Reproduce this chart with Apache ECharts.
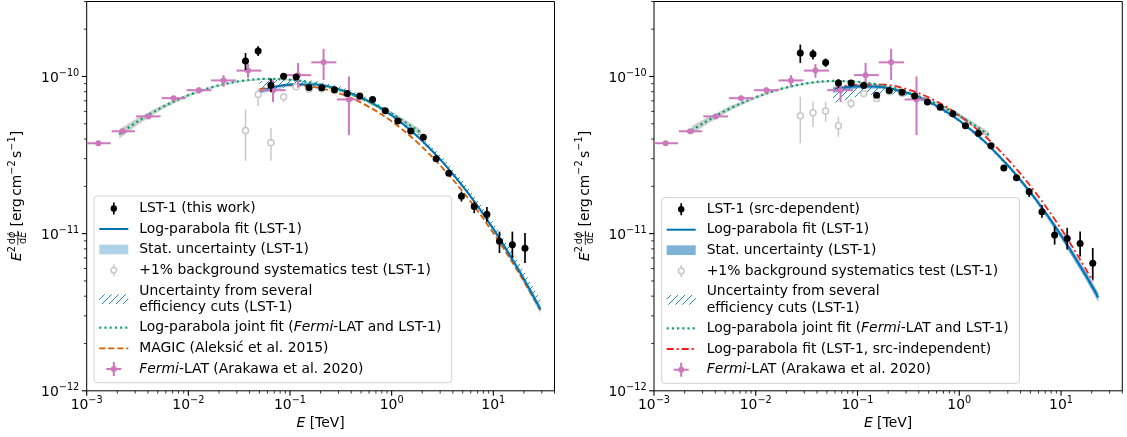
<!DOCTYPE html>
<html><head><meta charset="utf-8">
<script src="https://cdn.jsdelivr.net/npm/echarts@6/dist/echarts.min.js"></script>
<style>html,body{margin:0;padding:0;background:#fff}#c{width:1127px;height:437px}</style>
</head><body><div id="c"></div>
<script>
// ---------------- DATA (fluxes in units of 1e-11 erg cm^-2 s^-1, energies in TeV) ----------------
const SC = 1e-11;
const X_MIN = 1e-3, X_MAX = 40, Y_MIN = 1e-12, Y_MAX = 3e-10;

const xMajor = [0.001, 0.01, 0.1, 1, 10];
const xMinor = [0.002,0.003,0.004,0.005,0.006,0.007,0.008,0.009,
                0.02,0.03,0.04,0.05,0.06,0.07,0.08,0.09,
                0.2,0.3,0.4,0.5,0.6,0.7,0.8,0.9,
                2,3,4,5,6,7,8,9,20,30,40];
const yMajor = [1e-12, 1e-11, 1e-10];
const yMinor = [2e-12,3e-12,4e-12,5e-12,6e-12,7e-12,8e-12,9e-12,
                2e-11,3e-11,4e-11,5e-11,6e-11,7e-11,8e-11,9e-11,2e-10,3e-10];

// Fermi-LAT (Arakawa et al. 2020), both panels
const fermiE   = [0.00130, 0.00226, 0.00403, 0.00716, 0.0127, 0.0222, 0.0386, 0.0681, 0.120, 0.214, 0.380];
const fermiElo = [0.00100, 0.00176, 0.00305, 0.00546, 0.00959, 0.0167, 0.0297, 0.0504, 0.0923, 0.162, 0.290];
const fermiEhi = [0.00172, 0.00298, 0.00533, 0.00944, 0.0169, 0.0294, 0.0524, 0.0908, 0.162, 0.286, 0.502];
const fermiF   = [3.76, 4.48, 5.57, 7.28, 8.18, 9.44, 10.9, 8.18, 10.2, 12.3, 7.14];
const fermiFlo = [3.66, 4.36, 5.42, 7.05, 7.80, 8.60, 9.80, 6.87, 8.50, 9.50, 4.24];
const fermiFhi = [3.86, 4.60, 5.72, 7.52, 8.50, 10.2, 12.0, 9.47, 12.2, 15.0, 10.0];

// LST-1 (this work) - left
const lstL_E   = [0.0365,0.0486,0.0649,0.0865,0.115,0.154,0.205,0.274,0.365,0.486,0.649,0.865,1.15,1.54,2.05,2.74,3.65,4.86,6.49,8.65,11.5,15.4,20.5];
const lstL_F   = [12.56,14.5,8.81,10.04,9.94,8.51,8.47,8.24,7.78,7.50,7.14,6.05,5.20,4.50,4.10,3.00,2.42,1.73,1.49,1.33,0.893,0.851,0.808];
const lstL_Flo = [11.0,13.5,7.98,9.60,9.65,8.30,8.30,8.10,7.65,7.37,7.00,5.93,5.09,4.40,4.00,2.92,2.34,1.60,1.35,1.19,0.753,0.700,0.650];
const lstL_Fhi = [14.1,15.6,9.71,10.5,10.25,8.72,8.65,8.40,7.92,7.63,7.28,6.17,5.31,4.60,4.20,3.08,2.50,1.85,1.60,1.48,1.03,1.03,1.01];
// +1% background test - left
const bkgL_E   = [0.0365,0.0486,0.0649,0.0865,0.115,0.154,0.205,0.274];
const bkgL_F   = [4.54,7.69,3.79,7.43,8.59,8.30,8.35,8.10];
const bkgL_Flo = [2.91,6.48,2.91,6.90,8.30,8.10,8.20,7.95];
const bkgL_Fhi = [6.18,8.39,4.70,7.87,8.85,8.50,8.50,8.25];

// LST-1 (src-dependent) - right
const lstR_E   = [0.0274,0.0365,0.0486,0.0649,0.0865,0.115,0.154,0.205,0.274,0.365,0.486,0.649,0.865,1.15,1.54,2.05,2.74,3.65,4.86,6.49,8.65,11.5,15.4,20.5];
const lstR_F   = [14.13,13.90,12.27,9.10,9.10,8.77,7.60,8.13,7.93,7.50,6.87,6.38,5.79,4.86,4.36,3.63,2.62,2.27,1.85,1.38,0.982,0.933,0.867,0.647];
const lstR_Flo = [12.19,12.82,11.5,8.51,8.75,8.55,7.42,7.95,7.77,7.35,6.73,6.25,5.67,4.76,4.26,3.55,2.55,2.19,1.71,1.26,0.851,0.791,0.716,0.509];
const lstR_Fhi = [15.96,14.83,13.0,9.61,9.45,8.99,7.78,8.31,8.09,7.65,7.01,6.51,5.91,4.96,4.46,3.72,2.70,2.35,1.95,1.52,1.11,1.09,1.03,0.811];
const bkgR_E   = [0.0274,0.0365,0.0486,0.0649,0.0865,0.115,0.154,0.205,0.274];
const bkgR_F   = [5.62,5.88,6.03,4.86,6.74,7.80,7.25,8.00,7.80];
const bkgR_Flo = [3.76,4.79,5.15,4.14,6.27,7.60,7.05,7.85,7.65];
const bkgR_Fhi = [7.43,6.90,6.90,5.54,7.25,8.00,7.45,8.15,7.95];

// Curves - left
const fitL_E   = [0.0501,0.1,0.1778,0.3162,0.5623,1,1.778,3.162,5.623,10,17.78,29.04];
const fitL_F   = [8.03,8.88,8.88,8.24,7.09,5.65,4.18,2.86,1.82,1.073,0.586,0.330];
const statL_lo = [7.74,8.68,8.76,8.16,7.02,5.59,4.11,2.80,1.770,1.034,0.558,0.310];
const statL_hi = [8.33,9.09,9.00,8.32,7.16,5.72,4.25,2.92,1.871,1.113,0.615,0.351];
const sysL_lo  = [7.87,8.70,8.71,8.09,6.96,5.55,4.10,2.81,1.78,1.05,0.569,0.312];
const sysL_hi  = [9.33,9.63,9.41,8.63,7.42,5.94,4.43,3.06,1.973,1.177,0.657,0.383];
const magic_E  = [0.0501,0.1,0.1778,0.3162,0.5623,1,1.778,3.162,5.623,10,17.78,29.04];
const magic_F  = [8.31,8.79,8.54,7.74,6.55,5.18,3.82,2.62,1.684,1.009,0.564,0.326];
const jointL_E  = [0.002089,0.003162,0.005623,0.01,0.01778,0.03162,0.05623,0.1,0.1778,0.3162,0.5623,1,1.95];
const jointL_F  = [4.30,5.17,6.41,7.60,8.61,9.32,9.65,9.54,9.02,8.14,7.03,5.80,4.38];
const jointL_lo = [4.01,4.91,6.21,7.44,8.49,9.21,9.54,9.43,8.90,7.99,6.85,5.60,4.18];
const jointL_hi = [4.61,5.44,6.62,7.76,8.73,9.43,9.76,9.65,9.15,8.29,7.21,6.00,4.59];

// Curves - right
const fitR_E   = [0.05754,0.1,0.1778,0.3162,0.5623,1,1.778,3.162,5.623,10,17.78,23.23];
const fitR_F   = [8.22,8.68,8.55,7.82,6.65,5.25,3.85,2.62,1.661,0.977,0.534,0.393];
const statR_lo = [7.85,8.42,8.37,7.69,6.54,5.15,3.76,2.549,1.601,0.933,0.503,0.367];
const statR_hi = [8.61,8.94,8.73,7.95,6.76,5.35,3.94,2.693,1.723,1.023,0.567,0.421];
const sysR_lo  = [6.76,7.47,7.80,7.47,6.47,5.11,3.745,2.548,1.608,0.942,0.510,0.374];
const sysR_hi  = [8.37,8.84,8.71,7.97,6.84,5.40,3.96,2.69,1.710,1.007,0.553,0.411];
const indepR_E = [0.0603,0.1,0.1778,0.3162,0.5623,1,1.778,3.162,5.623,10,17.78,20.51];
const indepR_F = [8.34,8.88,8.88,8.24,7.09,5.65,4.18,2.86,1.82,1.073,0.586,0.499];
const jointR_E  = [0.002344,0.003162,0.005623,0.01,0.01778,0.03162,0.05623,0.1,0.1778,0.3162,0.5623,1,1.95];
const jointR_F  = [4.54,5.12,6.28,7.37,8.35,9.04,9.36,9.25,8.75,7.90,6.82,5.63,4.25];
const jointR_lo = [4.26,4.87,6.08,7.22,8.24,8.94,9.25,9.14,8.63,7.76,6.65,5.44,4.06];
const jointR_hi = [4.84,5.39,6.49,7.52,8.47,9.14,9.47,9.36,8.87,8.05,7.00,5.83,4.45];

// ---------------- STYLE ----------------
const FONT = '"DejaVu Sans", sans-serif';
const FS = 13.9, FSS = 9.73;
const C_BLUE = '#0173b2', C_HATCH = '#1f88d2', C_ORANGE = '#d55e00', C_GREEN = '#029e73',
      C_PINK = '#cc78bc', C_GRAY = '#c8c8c8', C_RED = '#ff1a1a';
const C_STAT_L = '#aed3e8', C_STAT_R = '#7db4d6', C_JOINT = 'rgba(140,150,145,0.45)';

const mctx = document.createElement('canvas').getContext('2d');
function tw(s, size, italic) { mctx.font = (italic ? 'italic ' : '') + size + 'px ' + FONT; return mctx.measureText(s).width; }

function hatchCanvas(color) {
  const c = document.createElement('canvas'); c.width = 7; c.height = 7;
  const g = c.getContext('2d'); g.strokeStyle = color; g.lineWidth = 1;
  g.beginPath(); g.moveTo(0, 7); g.lineTo(7, 0); g.moveTo(-1, 1); g.lineTo(1, -1); g.moveTo(6, 8); g.lineTo(8, 6); g.stroke();
  return c;
}
const HATCH = { image: hatchCanvas(C_HATCH), repeat: 'repeat' };

function pts(xs, ys) { return xs.map((x, i) => [x, ys[i] * SC]); }

function bandSeries(gi, E, lo, hi, fill, z) {
  return { type: 'custom', xAxisIndex: gi, yAxisIndex: gi, z, silent: true, clip: true,
    data: [[E[0], lo[0] * SC]],
    renderItem: (params, api) => {
      const p = [];
      for (let i = 0; i < E.length; i++) p.push(api.coord([E[i], hi[i] * SC]));
      for (let i = E.length - 1; i >= 0; i--) p.push(api.coord([E[i], lo[i] * SC]));
      return { type: 'polygon', shape: { points: p }, style: { fill: fill, stroke: null } };
    } };
}
function lineSeries(gi, E, F, color, width, dash, z) {
  return { type: 'line', xAxisIndex: gi, yAxisIndex: gi, z, silent: true, data: pts(E, F),
    showSymbol: false, symbol: 'none', smooth: 0.35,
    lineStyle: { color, width, type: dash || 'solid', opacity: 1 } };
}
function errSeries(gi, E, F, Flo, Fhi, Elo, Ehi, color, width, z) {
  return { type: 'custom', xAxisIndex: gi, yAxisIndex: gi, z, silent: true, clip: false,
    data: E.map((e, i) => [e, F[i] * SC, Flo[i] * SC, Fhi[i] * SC, Elo ? Elo[i] : e, Ehi ? Ehi[i] : e]),
    renderItem: (params, api) => {
      const c = api.coord([api.value(0), api.value(1)]);
      const lo = api.coord([api.value(0), api.value(2)]);
      const hi = api.coord([api.value(0), api.value(3)]);
      const ch = [{ type: 'line', shape: { x1: c[0], y1: lo[1], x2: c[0], y2: hi[1] }, style: { stroke: color, lineWidth: width } }];
      if (Elo) {
        const l = api.coord([api.value(4), api.value(1)]);
        const r = api.coord([api.value(5), api.value(1)]);
        ch.push({ type: 'line', shape: { x1: l[0], y1: c[1], x2: r[0], y2: c[1] }, style: { stroke: color, lineWidth: width } });
      }
      return { type: 'group', children: ch };
    } };
}
function scatterSeries(gi, E, F, size, itemStyle, z) {
  return { type: 'scatter', xAxisIndex: gi, yAxisIndex: gi, z, silent: true, data: pts(E, F),
    symbol: 'circle', symbolSize: size, itemStyle: Object.assign({ opacity: 1 }, itemStyle) };
}
function txt(s, x, y, size, align, italic) {
  return { type: 'text', style: { text: s, x, y, fontSize: size, fontFamily: FONT, fontStyle: italic ? 'italic' : 'normal',
    fill: '#000', align, verticalAlign: 'middle' } };
}
function tickSeries(gi, axis, vals, len, lw, withLabels) {
  return { type: 'custom', xAxisIndex: gi, yAxisIndex: gi, clip: false, silent: true, z: 30,
    data: vals.map(v => axis === 'x' ? [v, Y_MIN] : [X_MIN, v]),
    renderItem: (params, api) => {
      const p = api.coord([api.value(0), api.value(1)]);
      const v = axis === 'x' ? api.value(0) : api.value(1);
      const ch = [];
      if (axis === 'x') ch.push({ type: 'line', shape: { x1: p[0], y1: p[1], x2: p[0], y2: p[1] + len }, style: { stroke: '#000', lineWidth: lw } });
      else ch.push({ type: 'line', shape: { x1: p[0] - len, y1: p[1], x2: p[0], y2: p[1] }, style: { stroke: '#000', lineWidth: lw } });
      if (withLabels) {
        const e = Math.round(Math.log10(v));
        const sup = (e < 0 ? '\u2212' : '') + Math.abs(e);
        const w1 = tw('10', FS), w2 = tw(sup, FSS);
        if (axis === 'x') {
          const x0 = p[0] - (w1 + w2) / 2;
          ch.push(txt('10', x0, p[1] + 15, FS, 'left'));
          ch.push(txt(sup, x0 + w1, p[1] + 9.5, FSS, 'left'));
        } else {
          const xr = p[0] - 7.4;
          ch.push(txt(sup, xr, p[1] - 3.5, FSS, 'right'));
          ch.push(txt('10', xr - w2, p[1] + 1.5, FS, 'right'));
        }
      }
      return { type: 'group', children: ch };
    } };
}

function panelSeries(gi, d) {
  return [
    bandSeries(gi, d.jointE, d.jointLo, d.jointHi, C_JOINT, 1),
    bandSeries(gi, d.fitE, d.statLo, d.statHi, d.statColor, 2),
    bandSeries(gi, d.fitE, d.sysLo, d.sysHi, HATCH, 3),
    lineSeries(gi, d.dashE, d.dashF, d.dashColor, 1.8, d.dashType, 4),
    lineSeries(gi, d.fitE, d.fitF, C_BLUE, 2, null, 5),
    lineSeries(gi, d.jointE, d.jointF, C_GREEN, 2.3, [2, 3.2], 6),
    errSeries(gi, d.bkgE, d.bkgF, d.bkgLo, d.bkgHi, null, null, C_GRAY, 1.5, 7),
    scatterSeries(gi, d.bkgE, d.bkgF, 6, { color: '#fff', borderColor: C_GRAY, borderWidth: 1.5 }, 8),
    errSeries(gi, fermiE, fermiF, fermiFlo, fermiFhi, fermiElo, fermiEhi, C_PINK, 2, 9),
    scatterSeries(gi, fermiE, fermiF, 6, { color: C_PINK }, 10),
    errSeries(gi, d.lstE, d.lstF, d.lstLo, d.lstHi, null, null, '#000', 1.7, 11),
    scatterSeries(gi, d.lstE, d.lstF, 7, { color: '#000' }, 12),
    tickSeries(gi, 'x', xMinor, 2.8, 0.8, false),
    tickSeries(gi, 'x', xMajor, 4.9, 1.1, true),
    tickSeries(gi, 'y', yMinor, 2.8, 0.8, false),
    tickSeries(gi, 'y', yMajor, 4.9, 1.1, true)
  ];
}

const left = { jointE: jointL_E, jointF: jointL_F, jointLo: jointL_lo, jointHi: jointL_hi,
  fitE: fitL_E, fitF: fitL_F, statLo: statL_lo, statHi: statL_hi, statColor: C_STAT_L, sysLo: sysL_lo, sysHi: sysL_hi,
  dashE: magic_E, dashF: magic_F, dashColor: C_ORANGE, dashType: [6, 3],
  bkgE: bkgL_E, bkgF: bkgL_F, bkgLo: bkgL_Flo, bkgHi: bkgL_Fhi,
  lstE: lstL_E, lstF: lstL_F, lstLo: lstL_Flo, lstHi: lstL_Fhi };
const right = { jointE: jointR_E, jointF: jointR_F, jointLo: jointR_lo, jointHi: jointR_hi,
  fitE: fitR_E, fitF: fitR_F, statLo: statR_lo, statHi: statR_hi, statColor: C_STAT_R, sysLo: sysR_lo, sysHi: sysR_hi,
  dashE: indepR_E, dashF: indepR_F, dashColor: C_RED, dashType: [7, 3, 2, 3],
  bkgE: bkgR_E, bkgF: bkgR_F, bkgLo: bkgR_Flo, bkgHi: bkgR_Fhi,
  lstE: lstR_E, lstF: lstR_F, lstLo: lstR_Flo, lstHi: lstR_Fhi };

// ---------------- Axis titles & legends (graphic) ----------------
function yLabel(cx, cy) {
  const items = []; let x = 0;
  const add = (s, size, italic, dy) => { items.push(txt(s, x, dy, size, 'left', italic)); x += tw(s, size, italic); };
  add('E', FS, true, 0);
  add('2', FSS, false, -5.5);
  x += 1.2;
  const wn = tw('d', FSS) + tw('\u03d5', FSS, true), wd = tw('d', FSS) + tw('E', FSS, true);
  const fw = Math.max(wn, wd) + 1.5, fx = x;
  items.push(txt('d', fx + (fw - wn) / 2, -5.2, FSS, 'left'));
  items.push(txt('\u03d5', fx + (fw - wn) / 2 + tw('d', FSS), -5.2, FSS, 'left', true));
  items.push(txt('d', fx + (fw - wd) / 2, 5.6, FSS, 'left'));
  items.push(txt('E', fx + (fw - wd) / 2 + tw('d', FSS), 5.6, FSS, 'left', true));
  items.push({ type: 'line', shape: { x1: fx, y1: 0.3, x2: fx + fw, y2: 0.3 }, style: { stroke: '#000', lineWidth: 0.8 } });
  x += fw + 4.4;
  add('[erg', FS, false, 0); x += 2.4;
  add('cm', FS, false, 0); add('\u22122', FSS, false, -5.5); x += 2.4;
  add('s', FS, false, 0); add('\u22121', FSS, false, -5.5);
  add(']', FS, false, 0);
  const total = x;
  items.forEach(it => { if (it.type === 'text') it.style.x -= total / 2; else { it.shape.x1 -= total / 2; it.shape.x2 -= total / 2; } });
  return { type: 'group', x: cx, y: cy, rotation: Math.PI / 2, children: items };
}
function xLabel(cx, cy) {
  const w = tw('E', FS, true) + tw(' [TeV]', FS);
  const x0 = cx - w / 2;
  return { type: 'group', children: [
    { type: 'text', style: { text: 'E', x: x0, y: cy, fontSize: FS, fontFamily: FONT, fontStyle: 'italic', fill: '#000', verticalAlign: 'middle' } },
    { type: 'text', style: { text: ' [TeV]', x: x0 + tw('E', FS, true), y: cy, fontSize: FS, fontFamily: FONT, fill: '#000', verticalAlign: 'middle' } }
  ] };
}
const RICH_I = { i: { fontStyle: 'italic', fontSize: FS, fontFamily: FONT, fill: '#000' }, n: { fontSize: FS, fontFamily: FONT, fill: '#000' } };
function ltext(s, x, y) {
  return { type: 'text', z: 101, style: { text: s, x, y, fontSize: FS, fontFamily: FONT, fill: '#000', verticalAlign: 'middle', rich: RICH_I } };
}
function legend(bx, by, bw, bh, hx, tx, rows, thirdLabel, redRow) {
  const hc = hx + 14.5, el = [];
  el.push({ type: 'rect', z: 100, shape: { x: bx, y: by, width: bw, height: bh, r: 3 }, style: { fill: 'rgba(255,255,255,0.8)', stroke: '#d2d2d2', lineWidth: 1 } });
  el.push({ type: 'line', z: 101, shape: { x1: hc, y1: rows[0] - 6, x2: hc, y2: rows[0] + 6 }, style: { stroke: '#000', lineWidth: 1.7 } });
  el.push({ type: 'circle', z: 102, shape: { cx: hc, cy: rows[0], r: 3.2 }, style: { fill: '#000' } });
  el.push(ltext(thirdLabel[0], tx, rows[0]));
  el.push({ type: 'line', z: 101, shape: { x1: hx, y1: rows[1], x2: hx + 29, y2: rows[1] }, style: { stroke: C_BLUE, lineWidth: 2 } });
  el.push(ltext('Log-parabola fit (LST-1)', tx, rows[1]));
  el.push({ type: 'rect', z: 101, shape: { x: hx, y: rows[2] - 4.85, width: 29, height: 9.7 }, style: { fill: thirdLabel[1] } });
  el.push(ltext('Stat. uncertainty (LST-1)', tx, rows[2]));
  el.push({ type: 'line', z: 101, shape: { x1: hc, y1: rows[3] - 6, x2: hc, y2: rows[3] + 6 }, style: { stroke: C_GRAY, lineWidth: 1.5 } });
  el.push({ type: 'circle', z: 102, shape: { cx: hc, cy: rows[3], r: 2.8 }, style: { fill: '#fff', stroke: C_GRAY, lineWidth: 1.5 } });
  el.push(ltext('+1% background systematics test (LST-1)', tx, rows[3]));
  el.push({ type: 'rect', z: 101, shape: { x: hx, y: rows[4] - 4.85, width: 29, height: 9.7 }, style: { fill: HATCH } });
  el.push(ltext('Uncertainty from several', tx, rows[4] - 8.2));
  el.push(ltext('efficiency cuts (LST-1)', tx, rows[4] + 8.2));
  el.push({ type: 'line', z: 101, shape: { x1: hx, y1: rows[5], x2: hx + 29, y2: rows[5] }, style: { stroke: C_GREEN, lineWidth: 2.3, lineDash: [2, 3.2] } });
  el.push(ltext('Log-parabola joint fit ({i|Fermi}-LAT and LST-1)', tx, rows[5]));
  el.push({ type: 'line', z: 101, shape: { x1: hx, y1: rows[6], x2: hx + 29, y2: rows[6] }, style: { stroke: redRow ? C_RED : C_ORANGE, lineWidth: 1.8, lineDash: redRow ? [7, 3, 2, 3] : [6, 3] } });
  el.push(ltext(redRow ? 'Log-parabola fit (LST-1, src-independent)' : 'MAGIC (Aleksi\u0107 et al. 2015)', tx, rows[6]));
  el.push({ type: 'line', z: 101, shape: { x1: hc, y1: rows[7] - 7, x2: hc, y2: rows[7] + 7 }, style: { stroke: C_PINK, lineWidth: 2 } });
  el.push({ type: 'line', z: 101, shape: { x1: hc - 7.5, y1: rows[7], x2: hc + 7.5, y2: rows[7] }, style: { stroke: C_PINK, lineWidth: 2 } });
  el.push({ type: 'circle', z: 102, shape: { cx: hc, cy: rows[7], r: 3 }, style: { fill: C_PINK } });
  el.push(ltext('{i|Fermi}-LAT (Arakawa et al. 2020)', tx, rows[7]));
  return el;
}

const graphics = [].concat(
  legend(94, 196, 357.7, 186.7, 99.3, 139.3, [208.5, 229, 249.5, 270.2, 299.2, 327.6, 348.3, 369], ['LST-1 (this work)', C_STAT_L], false),
  legend(661.7, 197.7, 357.7, 185.6, 666.7, 706.7, [209.2, 229.7, 250.2, 270.9, 299.9, 328.3, 349, 369.7], ['LST-1 (src-dependent)', C_STAT_R], true),
  [yLabel(17.5, 196), yLabel(585, 196), xLabel(320.6, 423), xLabel(888, 423)]
);

const axisCommon = { type: 'log', logBase: 10, axisLine: { show: false }, axisTick: { show: false }, axisLabel: { show: false }, splitLine: { show: false } };
const chart = echarts.init(document.getElementById('c'), null, { renderer: 'canvas', width: 1127, height: 437 });
chart.setOption({
  animation: false,
  backgroundColor: '#fff',
  grid: [
    { left: 86.7, top: 1.5, width: 467.8, height: 389.3, show: true, borderColor: '#000', borderWidth: 1, backgroundColor: 'transparent' },
    { left: 654, top: 1.5, width: 468.3, height: 389.3, show: true, borderColor: '#000', borderWidth: 1, backgroundColor: 'transparent' }
  ],
  xAxis: [Object.assign({ gridIndex: 0, min: X_MIN, max: X_MAX }, axisCommon), Object.assign({ gridIndex: 1, min: X_MIN, max: X_MAX }, axisCommon)],
  yAxis: [Object.assign({ gridIndex: 0, min: Y_MIN, max: Y_MAX }, axisCommon), Object.assign({ gridIndex: 1, min: Y_MIN, max: Y_MAX }, axisCommon)],
  series: panelSeries(0, left).concat(panelSeries(1, right)),
  graphic: { elements: graphics }
});
</script></body></html>
